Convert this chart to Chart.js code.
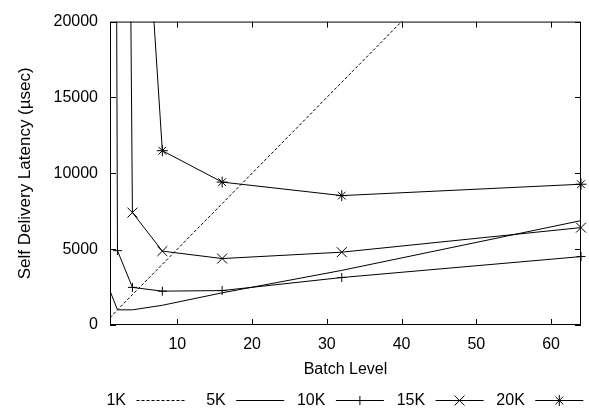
<!DOCTYPE html>
<html>
<head>
<meta charset="utf-8">
<script src="https://cdn.jsdelivr.net/npm/chart.js@4/dist/chart.umd.min.js"></script>
<style>
  body { margin: 0; background: #fff; }
  canvas { display: block; }
</style>
</head>
<body>
<canvas id="myChart" width="589" height="411"></canvas>
<script>
// batch levels and latencies (usec) per message size
var batchLevels = [1, 2, 4, 8, 16, 32, 64];
var lat1K  = [480, 1000, 2000, 4000, 8000, 16000, 32000];
var lat5K  = [2250, 1000, 1000, 1300, 2120, 3600, 6880];
var lat10K = [150000, 4900, 2480, 2230, 2270, 3130, 4510];
var lat15K = [250000, 130000, 7410, 4870, 4380, 4800, 6420];
var lat20K = [300000, 120000, 42000, 11490, 9420, 8530, 9280];
var seriesNames = ['1K', '5K', '10K', '15K', '20K'];
var xTicks = [10, 20, 30, 40, 50, 60];
var yTicks = [0, 5000, 10000, 15000, 20000];

var FONT = '"Liberation Sans", Arial, Helvetica, sans-serif';

function toPoints(ys) {
    return batchLevels.map((x, i) => ({ x: x, y: ys[i] }));
}

function drawMarker(ctx, style, x, y, r) {
    let d = r * Math.SQRT1_2;
    ctx.beginPath();
    if (style === 'cross' || style === 'star') {
        ctx.moveTo(x - r, y); ctx.lineTo(x + r, y);
        ctx.moveTo(x, y - r); ctx.lineTo(x, y + r);
    }
    if (style === 'crossRot' || style === 'star') {
        ctx.moveTo(x - d, y - d); ctx.lineTo(x + d, y + d);
        ctx.moveTo(x - d, y + d); ctx.lineTo(x + d, y - d);
    }
    ctx.stroke();
}

// gnuplot style frame, inward ticks on all four sides, and key below the plot
var framePlugin = {
    id: 'frame',
    afterDraw(chart) {
        let ctx = chart.ctx;
        let a = chart.chartArea;
        let xs = chart.scales.x, ys = chart.scales.y;
        ctx.save();
        ctx.strokeStyle = '#000';
        ctx.lineWidth = 1;
        ctx.setLineDash([]);
        ctx.strokeRect(a.left + 0.5, a.top + 0.5, a.right - a.left - 1, a.bottom - a.top - 1);
        ctx.beginPath();
        xTicks.forEach(v => {
            let px = Math.round(xs.getPixelForValue(v)) + 0.5;
            ctx.moveTo(px, a.bottom); ctx.lineTo(px, a.bottom - 6);
            ctx.moveTo(px, a.top); ctx.lineTo(px, a.top + 6);
        });
        yTicks.forEach(v => {
            let py = Math.round(ys.getPixelForValue(v)) + 0.5;
            ctx.moveTo(a.left, py); ctx.lineTo(a.left + 6, py);
            ctx.moveTo(a.right, py); ctx.lineTo(a.right - 6, py);
        });
        ctx.stroke();

        // key
        let keyY = 400.5;
        ctx.font = '16px ' + FONT;
        ctx.fillStyle = '#000';
        ctx.textAlign = 'right';
        ctx.textBaseline = 'middle';
        chart.data.datasets.forEach((ds, i) => {
            let textEnd = 126 + i * 99.7;
            ctx.fillText(seriesNames[i], textEnd, keyY);
            let x0 = textEnd + 10.5, x1 = x0 + 48;
            ctx.setLineDash(ds.borderDash || []);
            ctx.beginPath();
            ctx.moveTo(x0, keyY); ctx.lineTo(x1, keyY);
            ctx.stroke();
            ctx.setLineDash([]);
            if (ds.pointRadius > 0) {
                drawMarker(ctx, ds.pointStyle, (x0 + x1) / 2, keyY, ds.pointRadius);
            }
        });
        ctx.restore();
    }
};

function makeSet(label, ys, style, radius, dash) {
    return {
        label: label,
        data: toPoints(ys),
        borderColor: '#000',
        backgroundColor: '#000',
        borderWidth: 1,
        borderDash: dash || [],
        pointStyle: style || 'circle',
        pointRadius: radius || 0,
        pointHoverRadius: radius || 0,
        pointBorderWidth: 1,
        pointBorderColor: '#000',
        tension: 0,
        fill: false,
        clip: { left: 0, top: 0, right: 8, bottom: 0 }
    };
}

let ctx = document.getElementById('myChart').getContext('2d');

window.myChart = new Chart(ctx, {
    type: 'line',
    data: {
        datasets: [
            makeSet(seriesNames[0], lat1K, null, 0, [3, 2]),
            makeSet(seriesNames[1], lat5K, null, 0),
            makeSet(seriesNames[2], lat10K, 'cross', 4.5),
            makeSet(seriesNames[3], lat15K, 'crossRot', 7),
            makeSet(seriesNames[4], lat20K, 'star', 5.5)
        ]
    },
    options: {
        responsive: false,
        animation: false,
        devicePixelRatio: 1,
        layout: { padding: { top: 10, right: 7, bottom: 0, left: 0 } },
        scales: {
            x: {
                type: 'linear',
                position: 'bottom',
                min: 1,
                max: 64,
                afterBuildTicks: s => { s.ticks = xTicks.map(v => ({ value: v })); },
                afterFit: s => { s.height = 86; },
                grid: { display: false, drawTicks: false },
                border: { display: false },
                ticks: {
                    color: '#000',
                    font: { family: FONT, size: 16 },
                    padding: 10,
                    maxRotation: 0,
                    callback: v => String(v)
                },
                title: {
                    display: true,
                    text: 'Batch Level',
                    color: '#000',
                    font: { family: FONT, size: 16 },
                    padding: { top: 0, bottom: 32 }
                }
            },
            y: {
                type: 'linear',
                position: 'left',
                min: 0,
                max: 20000,
                afterBuildTicks: s => { s.ticks = yTicks.map(v => ({ value: v })); },
                afterFit: s => { s.width = 110; },
                grid: { display: false, drawTicks: false },
                border: { display: false },
                ticks: {
                    color: '#000',
                    font: { family: FONT, size: 16 },
                    padding: 12,
                    callback: v => String(v)
                },
                title: {
                    display: true,
                    text: 'Self Delivery Latency (µsec)',
                    color: '#000',
                    font: { family: FONT, size: 17 },
                    padding: { top: 15, bottom: 0 }
                }
            }
        },
        plugins: {
            legend: { display: false },
            tooltip: { enabled: false }
        }
    },
    plugins: [framePlugin]
});
</script>
</body>
</html>
